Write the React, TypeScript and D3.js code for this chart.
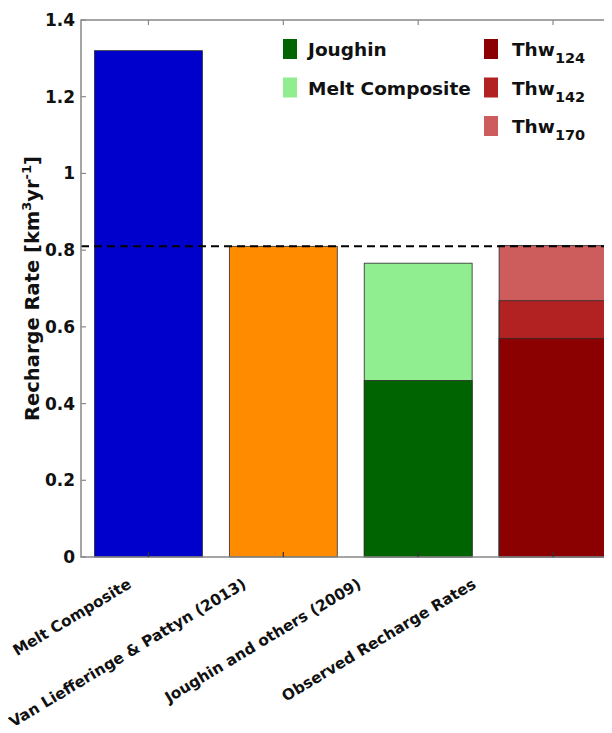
import { useEffect, useRef } from 'react'
import * as d3 from 'd3'

const categories = ['Melt Composite', 'Van Liefferinge & Pattyn (2013)', 'Joughin and others (2009)', 'Observed Recharge Rates']
// each bar is a stack of segments, bottom to top
const meltComposite = [1.32]
const vanLiefferinge = [0.81]
const joughin = [0.46, 0.766]
const observed = [0.57, 0.668, 0.812]
const barColors = [
  ['#0000CD'],
  ['#FF8C00'],
  ['#006400', '#90EE90'],
  ['#8B0000', '#B22222', '#CD5C5C'],
]
const yTicks = [0, 0.2, 0.4, 0.6, 0.8, 1, 1.2, 1.4]
const referenceRate = 0.81

const legendLeft = [
  { label: 'Joughin', sub: '', color: '#006400' },
  { label: 'Melt Composite', sub: '', color: '#90EE90' },
]
const legendRight = [
  { label: 'Thw', sub: '124', color: '#8B0000' },
  { label: 'Thw', sub: '142', color: '#B22222' },
  { label: 'Thw', sub: '170', color: '#CD5C5C' },
]

export default function App() {
  const svgRef = useRef<SVGSVGElement>(null)

  useEffect(() => {
    if (!svgRef.current) return
    const svg = d3.select(svgRef.current)
    svg.selectAll('*').remove()

    const W = 612, H = 733
    const left = 81, right = 607, top = 20, bottom = 557
    const font = 'DejaVu Sans, sans-serif'
    const axisColor = '#888'

    svg.attr('width', W).attr('height', H)
    svg.append('rect').attr('width', W).attr('height', H).attr('fill', '#fff')

    const x = d3.scaleLinear().domain([0.5, 4.4]).range([left, right])
    const y = d3.scaleLinear().domain([0, 1.4]).range([bottom, top])
    const barW = x(1.8) - x(1)
    // the tick labels in the original drift left of their ticks
    const labelX = d3.scaleLinear().domain([1, 4]).range([x(1) - 16, x(4) - 76])

    const stacks = [meltComposite, vanLiefferinge, joughin, observed]

    // bars, drawn top segment first so lower ones overlay
    stacks.forEach((vals, i) => {
      const cx = x(i + 1)
      for (let j = vals.length - 1; j >= 0; j--) {
        svg.append('rect')
          .attr('x', cx - barW / 2)
          .attr('y', y(vals[j]))
          .attr('width', barW)
          .attr('height', y(0) - y(vals[j]))
          .attr('fill', barColors[i][j])
          .attr('stroke', '#2a2a2a')
          .attr('stroke-width', 0.8)
      }
    })

    // dashed reference line
    svg.append('line')
      .attr('x1', left).attr('x2', W)
      .attr('y1', y(referenceRate)).attr('y2', y(referenceRate))
      .attr('stroke', '#000')
      .attr('stroke-width', 2)
      .attr('stroke-dasharray', '8,5')

    // axes box
    svg.append('path')
      .attr('d', `M${right},${top}H${left}V${bottom}H${right}V${top}`)
      .attr('fill', 'none')
      .attr('stroke', axisColor)
      .attr('stroke-width', 1.5)

    // y ticks (inward)
    yTicks.forEach(t => {
      svg.append('line')
        .attr('x1', left).attr('x2', left + 5)
        .attr('y1', y(t)).attr('y2', y(t))
        .attr('stroke', axisColor).attr('stroke-width', 1.2)
      svg.append('text')
        .attr('x', left - 6)
        .attr('y', y(t) + 6)
        .attr('text-anchor', 'end')
        .attr('font-family', font)
        .attr('font-weight', 'bold')
        .attr('font-size', 17)
        .attr('fill', '#111')
        .text(d3.format('~g')(t))
    })

    // x ticks and labels
    categories.forEach((c, i) => {
      const cx = x(i + 1)
      svg.append('line')
        .attr('x1', cx).attr('x2', cx)
        .attr('y1', top).attr('y2', top + 5)
        .attr('stroke', axisColor).attr('stroke-width', 1.2)
      svg.append('line')
        .attr('x1', cx).attr('x2', cx)
        .attr('y1', bottom).attr('y2', bottom - 5)
        .attr('stroke', '#333').attr('stroke-width', 1.2)
      svg.append('text')
        .attr('transform', `translate(${labelX(i + 1)},${bottom + 30}) rotate(-31)`)
        .attr('text-anchor', 'end')
        .attr('font-family', font)
        .attr('font-weight', 'bold')
        .attr('font-size', 15.3)
        .attr('fill', '#111')
        .text(c)
    })

    // y axis title
    const yl = svg.append('text')
      .attr('transform', `translate(39,${(top + bottom) / 2}) rotate(-90)`)
      .attr('text-anchor', 'middle')
      .attr('font-family', font)
      .attr('font-weight', 'bold')
      .attr('font-size', 19.5)
      .attr('fill', '#111')
    yl.append('tspan').text('Recharge Rate [km')
    yl.append('tspan').attr('font-size', 13).attr('dy', -8).text('3')
    yl.append('tspan').attr('dy', 8).text('yr')
    yl.append('tspan').attr('font-size', 13).attr('dy', -8).text('-1')
    yl.append('tspan').attr('dy', 8).text(']')

    // legends
    const drawLegend = (items, sx, tx) => {
      items.forEach((d, k) => {
        const ry = 39 + k * 38.5
        svg.append('rect')
          .attr('x', sx).attr('y', ry)
          .attr('width', 14).attr('height', 20)
          .attr('fill', d.color)
        const t = svg.append('text')
          .attr('x', tx).attr('y', ry + 17)
          .attr('font-family', font)
          .attr('font-weight', 'bold')
          .attr('font-size', 18.5)
          .attr('fill', '#111')
        t.append('tspan').text(d.label)
        if (d.sub) {
          t.append('tspan').attr('font-size', 14.5).attr('dy', 7).text(d.sub)
        }
      })
    }
    drawLegend(legendLeft, 283, 308)
    drawLegend(legendRight, 484, 512)
  }, [])

  return (
    <div style={{ margin: -8 }}>
      <svg ref={svgRef} style={{ display: 'block' }}></svg>
    </div>
  )
}
